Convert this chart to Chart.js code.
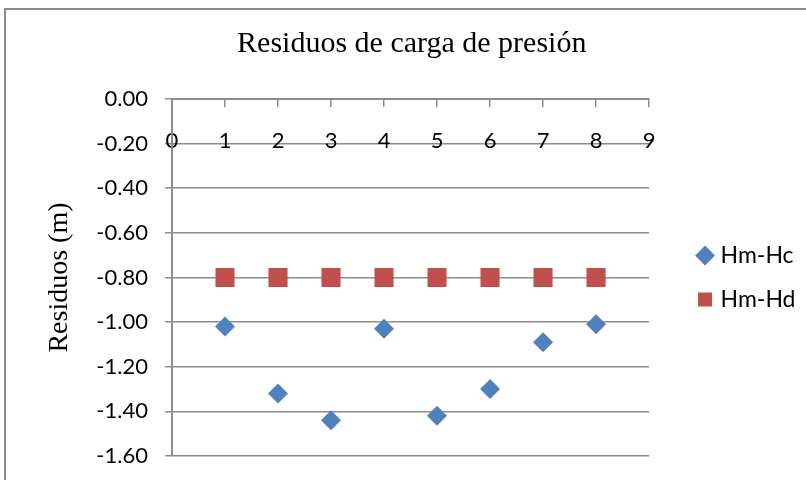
<!DOCTYPE html>
<html>
<head>
<meta charset="utf-8">
<script src="https://cdn.jsdelivr.net/npm/chart.js@4.4.1/dist/chart.umd.min.js"></script>
<style>
html,body{margin:0;padding:0;background:#fff;overflow:hidden}
#marco{position:absolute;left:4px;top:8px;width:900px;height:600px;border:2px solid #8c8c8c}
#caja{position:absolute;left:0;top:0;width:806px;height:480px}
</style>
</head>
<body>
<div id="marco"></div>
<div id="caja"><canvas id="grafico" width="806" height="480"></canvas></div>
<script>
// datos
var puntos = [1, 2, 3, 4, 5, 6, 7, 8]
var hmHc = [-1.02, -1.32, -1.44, -1.03, -1.42, -1.30, -1.09, -1.01]
var hmHd = [-0.80, -0.80, -0.80, -0.80, -0.80, -0.80, -0.80, -0.80]
var ejeX = [0, 9, 1]          // min, max, paso
var ejeY = [-1.6, 0, 0.2]     // min, max, paso

var gris = "#8c8c8c"
var letra = "Lato"
var serif = "'Liberation Serif', 'Times New Roman', serif"

function pares(xs, ys){
	var res = []
	for(var i=0;i<xs.length;i++){
		res.push({x: xs[i], y: ys[i]})
	}
	return res
}

new Chart("grafico", {
	type: "scatter",
	data: {
		datasets: [
			{label: "Hm-Hc", data: pares(puntos, hmHc), pointStyle: "rectRot", pointRadius: 10,
				backgroundColor: "#4F81BD", borderColor: "#4F81BD", borderWidth: 0},
			{label: "Hm-Hd", data: pares(puntos, hmHd), pointStyle: "rect", pointRadius: 13.5,
				backgroundColor: "#C0504D", borderColor: "#C0504D", borderWidth: 0}
		]
	},
	options: {
		responsive: false,
		animation: false,
		devicePixelRatio: 1,
		layout: {padding: {top: 8, left: 18, right: 0.5, bottom: 24}},
		plugins: {
			tooltip: {enabled: false},
			title: {display: true, text: "Residuos de carga de presión", color: "#000",
				font: {family: serif, size: 30, weight: "normal"}, padding: {top: 18, bottom: 37}},
			legend: {position: "right", fullSize: false,
				labels: {usePointStyle: true, boxWidth: 8, boxHeight: 14, padding: 21, color: "#000",
					font: {family: letra, size: 23}}}
		},
		scales: {
			x: {type: "linear", position: {y: 0}, min: ejeX[0], max: ejeX[1],
				ticks: {stepSize: ejeX[2], color: "#000", padding: 22, font: {family: letra, size: 22}},
				grid: {drawOnChartArea: false, drawTicks: true, tickLength: 7, color: gris, lineWidth: 1.5},
				border: {display: true, color: gris, width: 2}},
			y: {type: "linear", position: "left", min: ejeY[0], max: ejeY[1],
				ticks: {stepSize: ejeY[2], color: "#000", padding: 17, font: {family: letra, size: 22},
					callback: function(v){ return v.toFixed(2) }},
				grid: {color: gris, lineWidth: 1.5, tickLength: 7},
				border: {display: true, color: gris, width: 2},
				title: {display: true, text: "Residuos (m)", color: "#000",
					font: {family: serif, size: 28, weight: "normal"}, padding: {top: 25, bottom: 0}},
				afterFit: function(s){ s.width = 154; s.paddingTop = 0; s.paddingBottom = 0 }},
			espacio: {type: "linear", position: "right", display: true,
				ticks: {display: false}, grid: {display: false}, border: {display: false},
				afterFit: function(s){ s.width = 31; s.paddingTop = 0; s.paddingBottom = 0 }}
		}
	}
})
</script>
</body>
</html>
